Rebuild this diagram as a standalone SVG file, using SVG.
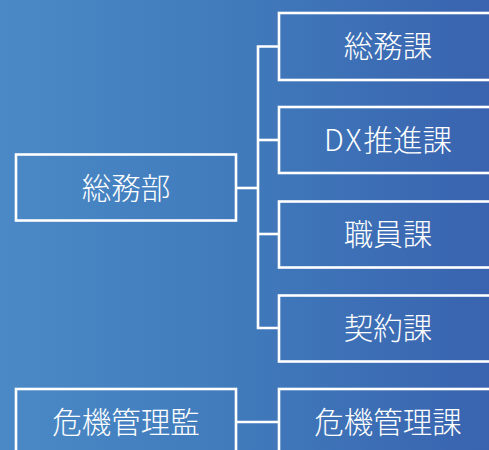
<svg xmlns="http://www.w3.org/2000/svg" width="489" height="450" viewBox="0 0 489 450">
<defs>
<linearGradient id="bg" x1="0" y1="0" x2="1" y2="0">
<stop offset="0" stop-color="#4a89c6"/>
<stop offset="0.5" stop-color="#407abb"/>
<stop offset="1" stop-color="#3963af"/>
</linearGradient>
</defs>
<style>
.box{fill:none;stroke:#ffffff;stroke-width:2.6}
.lbl{fill:#ffffff;font-family:"Noto Sans CJK JP","Noto Sans",sans-serif;font-size:29.5px;font-weight:300;text-anchor:middle;dominant-baseline:central}
.ln{fill:none;stroke:#ffffff;stroke-width:2.6}
</style>
<rect x="0" y="0" width="489" height="450" fill="url(#bg)"/>
<g id="connectors">
<path class="ln" d="M279 46.5 H258 V328 H279"/>
<path class="ln" d="M258 140 H279"/>
<path class="ln" d="M258 234 H279"/>
<path class="ln" d="M236 188 H258"/>
<path class="ln" d="M236 422 H279"/>
</g>
<g id="soumubu">
<rect class="box" x="16" y="154.5" width="220" height="66"/>
<text class="lbl" x="126" y="186">総務部</text>
</g>
<g id="soumuka">
<rect class="box" x="279" y="13" width="220" height="67"/>
<text class="lbl" x="388" y="44">総務課</text>
</g>
<g id="dx">
<rect class="box" x="279" y="107" width="220" height="66"/>
<text class="lbl" x="388" y="138"><tspan letter-spacing="2">DX</tspan>推進課</text>
</g>
<g id="shokuin">
<rect class="box" x="279" y="201.5" width="220" height="66"/>
<text class="lbl" x="388" y="232">職員課</text>
</g>
<g id="keiyaku">
<rect class="box" x="279" y="295.5" width="220" height="66"/>
<text class="lbl" x="388" y="326">契約課</text>
</g>
<g id="kikikanrikan">
<rect class="box" x="16" y="389" width="220" height="66"/>
<text class="lbl" x="126" y="420">危機管理監</text>
</g>
<g id="kikikanrika">
<rect class="box" x="279" y="389" width="220" height="66"/>
<text class="lbl" x="388" y="420">危機管理課</text>
</g>
</svg>
